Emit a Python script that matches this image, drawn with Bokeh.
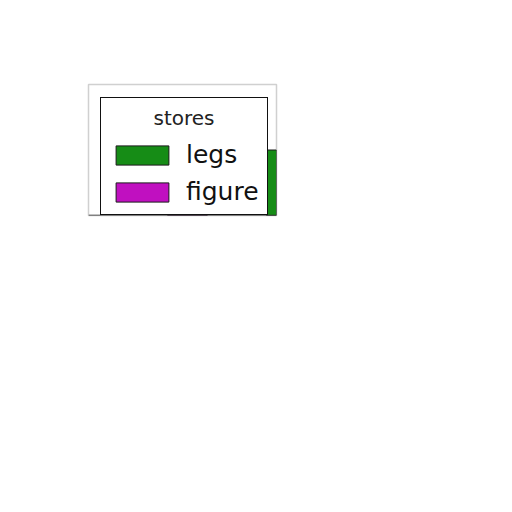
from bokeh.plotting import figure
from bokeh.models import Range1d, Legend, LegendItem, ColumnDataSource
from bokeh.embed import file_html
from bokeh.resources import INLINE

# data
stores = ["legs", "figure"]
positions = [0.0, -2.0]
values = [15.0, 12.0]
colors = ["#168c16", "#c010c0"]

p = figure(width=504, height=504, output_backend="svg", toolbar_location=None,
           x_range=Range1d(-4.0, -0.2), y_range=Range1d(0, 30),
           min_border_left=88, min_border_right=228, min_border_top=84, min_border_bottom=289)
p.frame_width = 188
p.frame_height = 131
p.axis.visible = False
p.grid.visible = False
p.outline_line_color = "#d0d0d0"
p.outline_line_width = 1.5
p.background_fill_color = "white"
p.border_fill_color = "white"

items = []
for s, x, v, c in zip(stores, positions, values, colors):
    src = ColumnDataSource(dict(x=[x], top=[v]))
    r = p.vbar(x="x", top="top", width=0.8, bottom=0, source=src,
               fill_color=c, line_color="#1a1a1a", line_width=1)
    items.append(LegendItem(label=s, renderers=[r]))

# bottom axis line
p.segment(x0=[-4.0], y0=[0], x1=[-0.2], y1=[0], line_color="#333333", line_width=1.5)

leg = Legend(items=items, location=(12, 0), title="\u00a0" * 7 + "stores",
             title_text_font="DejaVu Sans", title_text_font_size="20px",
             title_text_font_style="normal",
             title_text_color="#222222", title_standoff=10,
             label_text_font="DejaVu Sans", label_text_font_size="25px",
             label_text_color="#111111",
             glyph_width=66, glyph_height=24, label_standoff=11,
             label_height=24, spacing=8, padding=8, margin=0,
             border_line_color="#111111", border_line_width=1.5,
             border_line_alpha=1.0,
             background_fill_color="white", background_fill_alpha=1.0)
p.add_layout(leg, "center")

open("out.html", "w").write(file_html(p, INLINE))
